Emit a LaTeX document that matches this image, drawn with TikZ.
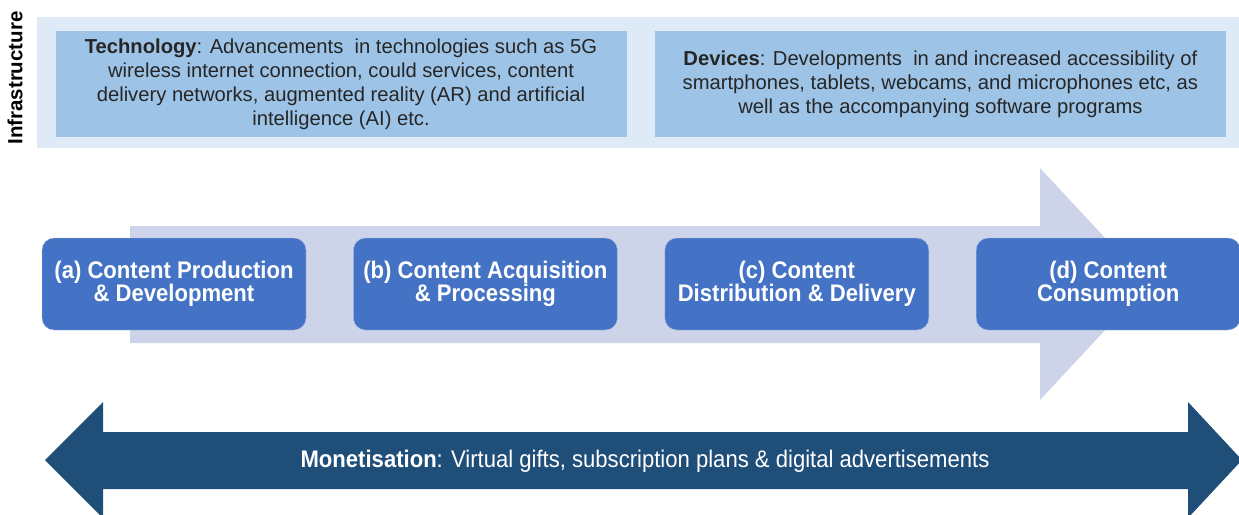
\documentclass[tikz,border=0pt]{standalone}
\usepackage{fontspec}
\setmainfont{Liberation Sans}
\newfontfamily\narrowfont[FakeStretch=0.92]{Liberation Sans}
\usepackage{tikz}
\usetikzlibrary{positioning}

\definecolor{bandblue}{HTML}{DEEAF6}
\definecolor{infoblue}{HTML}{9DC3E6}
\definecolor{flowgrey}{HTML}{CDD4EA}
\definecolor{stageblue}{HTML}{4472C4}
\definecolor{moneyblue}{HTML}{1F4E79}

\begin{document}
\begin{tikzpicture}[x=1pt, y=-1pt, node distance=47pt,
	info/.style={fill=infoblue, minimum width=571pt, minimum height=106pt, align=center, text=black!85, font=\fontsize{20.2}{24}\selectfont},
	stage/.style={draw=white!55!stageblue, thin, fill=stageblue, rounded corners=12pt, minimum width=264pt, minimum height=92pt, align=center, text=white, font=\narrowfont\bfseries\fontsize{24}{23}\selectfont}]
	\useasboundingbox (0,0) rectangle (1239,514);

	% infrastructure band
	\fill[bandblue] (37,17) rectangle (1239,148);
	\node (infra) [rotate=90, font=\bfseries\fontsize{20.5}{22}\selectfont] at (15,78) {Infrastructure};
	\node (tech) [info] at (341,84) {\textbf{Technology}: Advancements\ \ in technologies such as 5G\\wireless internet connection, could services, content\\delivery networks, augmented reality (AR) and artificial\\intelligence (AI) etc.};
	\node (dev) [info, right=28pt of tech] {\textbf{Devices}: Developments\ \ in and increased accessibility of\\smartphones, tablets, webcams, and microphones etc, as\\well as the accompanying software programs};

	% value chain arrow and its stages
	\fill[flowgrey] (130,226) -- (1040,226) -- (1040,168) -- (1148,284) -- (1040,400) -- (1040,343) -- (130,343) -- cycle;
	\node (prod) [stage] at (174,284) {(a) Content Production\\\& Development};
	\node (acq) [stage, right=of prod] {(b) Content Acquisition\\\& Processing};
	\node (dist) [stage, right=of acq] {(c) Content\\Distribution \& Delivery};
	\node (cons) [stage, right=of dist] {(d) Content\\Consumption};

	% monetisation runs both ways
	\fill[moneyblue] (45,460) -- (103,402) -- (103,432) -- (1188,432) -- (1188,402) -- (1242,460) -- (1188,518) -- (1188,489) -- (103,489) -- (103,518) -- cycle;
	\node (money) [text=white, font=\narrowfont\fontsize{24}{26}\selectfont] at (645,461) {\textbf{Monetisation}: Virtual gifts, subscription plans \& digital advertisements};
\end{tikzpicture}
\end{document}
